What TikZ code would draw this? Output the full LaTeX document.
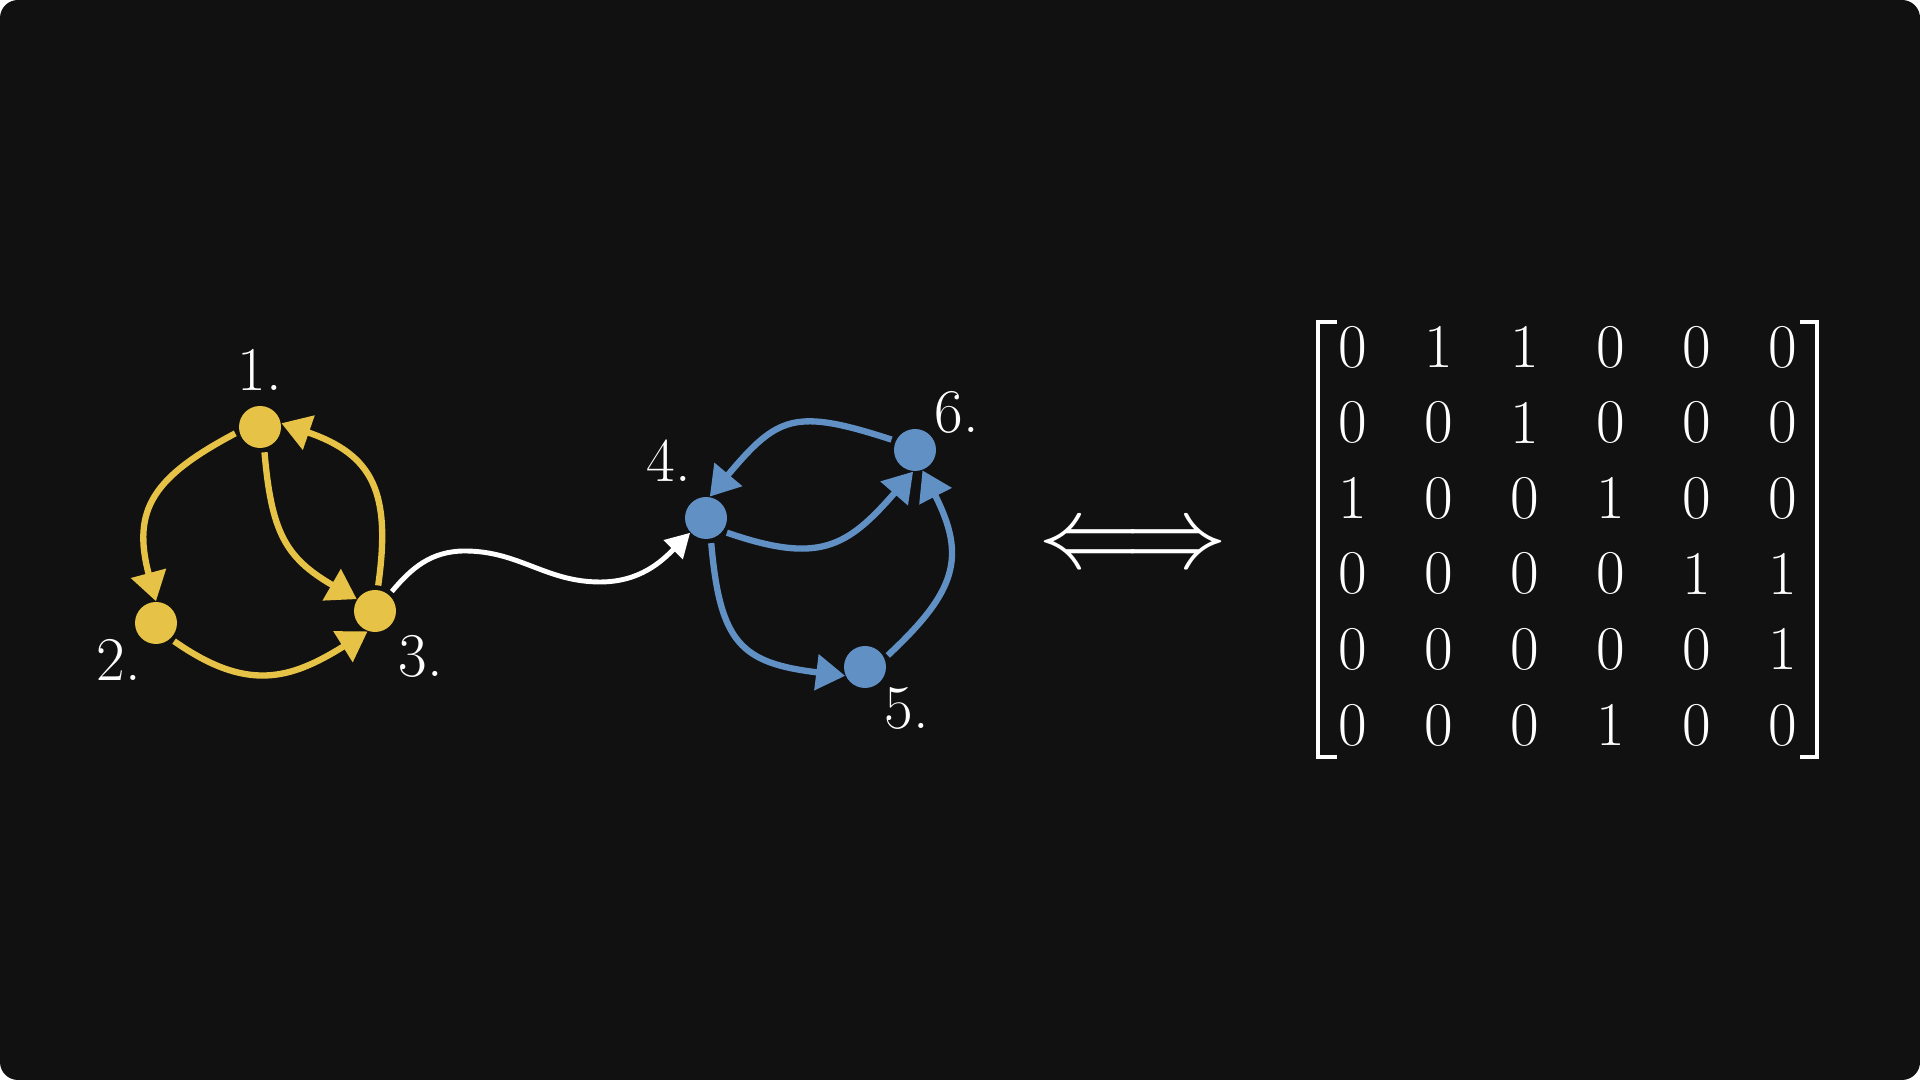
\documentclass[tikz,border=0pt]{standalone}
\usepackage{fontspec}
\usepackage{amsmath}
\usepackage{graphicx}
\usetikzlibrary{arrows.meta}
\definecolor{bgdark}{HTML}{111111}
\definecolor{gyellow}{HTML}{E6C346}
\definecolor{gblue}{HTML}{6090C4}

\begin{document}
\begin{tikzpicture}[>={Triangle[length=2.9mm,width=3.5mm]},
    dot/.style={circle, fill=#1, inner sep=0pt, minimum size=4.2mm},
    yarr/.style={gyellow, line width=1.8pt, ->, shorten <=0.4mm},
    barr/.style={gblue, line width=1.8pt, ->, shorten <=0.4mm},
    lab/.style={text=white, inner sep=0pt, font=\fontsize{17.7}{20}\selectfont}]

    \fill[bgdark, rounded corners=1.8mm] (0,0) rectangle (19.2,10.8);

    % yellow part
    \node[dot=gyellow] (n1) at (2.60,6.53) {};
    \node[dot=gyellow] (n2) at (1.56,4.57) {};
    \node[dot=gyellow] (n3) at (3.75,4.69) {};
    \node[lab] (l1) at (2.60,7.10) {1.};
    \node[lab] (l2) at (1.19,4.20) {2.};
    \node[lab] (l3) at (4.21,4.24) {3.};

    \draw[yarr] (n1.192) to[out=208, in=105, looseness=1.3] (n2.90);
    \draw[yarr] (n1.281) to[out=-85, in=150, looseness=1.2] (n3.147);
    \draw[yarr] (n3.83) to[out=82, in=-19, looseness=1.3] (n1.10);
    \draw[yarr] (n2.313) to[out=-35, in=-148, looseness=1.2] (n3.250);

    % blue part
    \node[dot=gblue] (n4) at (7.06,5.62) {};
    \node[dot=gblue] (n5) at (8.65,4.13) {};
    \node[dot=gblue] (n6) at (9.15,6.30) {};
    \node[lab] (l4) at (6.69,6.19) {4.};
    \node[lab] (l5) at (9.07,3.72) {5.};
    \node[lab] (l6) at (9.57,6.68) {6.};

    \draw[barr] (n6.155) to[out=162, in=50, looseness=1.4] (n4.80);
    \draw[barr] (n4.322) to[out=-19, in=229, looseness=1.3] (n6.265);
    \draw[barr] (n4.283) to[out=-85, in=173, looseness=1.4] (n5.204);
    \draw[barr] (n5.24) to[out=43, in=-63, looseness=1.3] (n6.290);

    % link between the two
    \coordinate (wpeak) at (4.65,5.29);
    \coordinate (wlow) at (6.00,4.98);
    \draw[white, line width=1.4pt, -{Triangle[length=2.4mm,width=2.6mm]}, shorten <=0.4mm]
        (n3.49) to[out=50, in=180] (wpeak) to[out=0, in=180] (wlow) to[out=0, in=225] (n4.223);

    \node[text=white] (iff) at (11.33,5.31) {\resizebox{18.9mm}{!}{$\Longleftrightarrow$}};

    % adjacency matrix
    \foreach \row [count=\i from 0] in {{0,1,1,0,0,0},{0,0,1,0,0,0},{1,0,0,1,0,0},
                                       {0,0,0,0,1,1},{0,0,0,0,0,1},{0,0,0,1,0,0}}
        \foreach \v [count=\j from 0] in \row
            \node[lab] (m\i\j) at (13.53+0.86*\j, 7.33-0.756*\i) {\v};

    \draw[white, line width=1.1pt] (13.37,7.58) -- (13.18,7.58) -- (13.18,3.23) -- (13.37,3.23);
    \draw[white, line width=1.1pt] (18.00,7.58) -- (18.17,7.58) -- (18.17,3.23) -- (18.00,3.23);

\end{tikzpicture}
\end{document}
